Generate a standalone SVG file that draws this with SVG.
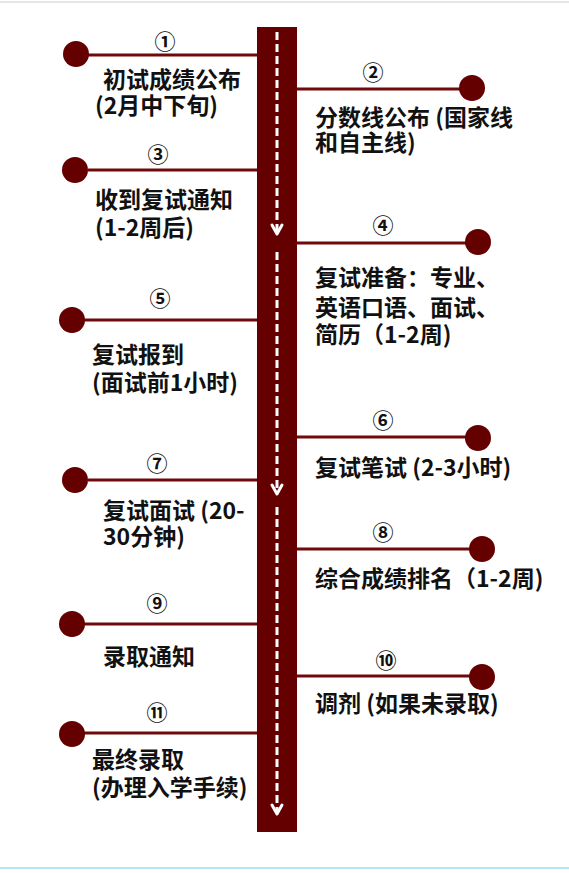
<svg xmlns="http://www.w3.org/2000/svg" width="569" height="873" viewBox="0 0 569 873">
<style>
.t{font-family:"Noto Sans CJK SC","Liberation Sans",sans-serif;font-size:23px;font-weight:bold;fill:#111}
.n{font-family:"Noto Sans CJK SC","DejaVu Sans",sans-serif;font-size:21px;font-weight:bold;fill:#111;text-anchor:middle}
.c{stroke:#6e0a0a;stroke-width:3;fill:none}
.d{fill:#650000}
.dash{stroke:#fff;stroke-width:3;stroke-dasharray:8 4;fill:none}
.ar{stroke:#fff;stroke-width:3;fill:none;stroke-linecap:round;stroke-linejoin:round}
</style>
<rect width="569" height="873" fill="#fff"/>
<rect x="0" y="1" width="569" height="2" fill="#e6e6e6"/>
<rect x="0" y="867" width="569" height="2" fill="#b3e5fc"/>
<g id="timeline">
<rect x="257" y="27" width="40" height="805" fill="#650000"/>
<line class="dash" x1="277" y1="32" x2="277" y2="232"/>
<polyline class="ar" points="272,225 277,234 282,225"/>
<line class="dash" x1="277" y1="252" x2="277" y2="492"/>
<polyline class="ar" points="272,485 277,494 282,485"/>
<line class="dash" x1="277" y1="507" x2="277" y2="812"/>
<polyline class="ar" points="272,805 277,814 282,805"/>
</g>
<g id="connectors">
<line class="c" x1="88" y1="55" x2="257" y2="55"/>
<line class="c" x1="297" y1="89" x2="460" y2="89"/>
<line class="c" x1="88" y1="170" x2="257" y2="170"/>
<line class="c" x1="297" y1="243" x2="466" y2="243"/>
<line class="c" x1="84" y1="320" x2="257" y2="320"/>
<line class="c" x1="297" y1="437" x2="466" y2="437"/>
<line class="c" x1="88" y1="480" x2="257" y2="480"/>
<line class="c" x1="297" y1="549" x2="470" y2="549"/>
<line class="c" x1="84" y1="624" x2="257" y2="624"/>
<line class="c" x1="297" y1="676" x2="470" y2="676"/>
<line class="c" x1="84" y1="733" x2="257" y2="733"/>
</g>
<g id="node1">
<circle class="d" cx="76" cy="54" r="13"/>
<text class="n" x="165" y="49">①</text>
<text class="t"><tspan x="103" y="88">初试成绩公布</tspan><tspan x="95" y="114">(2月中下旬)</tspan></text>
</g>
<g id="node2">
<circle class="d" cx="472" cy="88" r="13"/>
<text class="n" x="373" y="80">②</text>
<text class="t"><tspan x="315" y="126">分数线公布 (国家线</tspan><tspan x="315" y="151">和自主线)</tspan></text>
</g>
<g id="node3">
<circle class="d" cx="75" cy="170" r="13"/>
<text class="n" x="158" y="162">③</text>
<text class="t"><tspan x="95" y="208">收到复试通知</tspan><tspan x="95" y="236">(1-2周后)</tspan></text>
</g>
<g id="node4">
<circle class="d" cx="478" cy="242" r="13"/>
<text class="n" x="383" y="233">④</text>
<text class="t"><tspan x="315" y="286">复试准备：专业、</tspan><tspan x="315" y="316">英语口语、面试、</tspan><tspan x="315" y="343">简历（1-2周)</tspan></text>
</g>
<g id="node5">
<circle class="d" cx="72" cy="320" r="13"/>
<text class="n" x="160" y="306">⑤</text>
<text class="t"><tspan x="92" y="363">复试报到</tspan><tspan x="92" y="391">(面试前1小时)</tspan></text>
</g>
<g id="node6">
<circle class="d" cx="478" cy="438" r="13"/>
<text class="n" x="383" y="428">⑥</text>
<text class="t" x="315" y="476">复试笔试 (2-3小时)</text>
</g>
<g id="node7">
<circle class="d" cx="75" cy="480" r="13"/>
<text class="n" x="157" y="471">⑦</text>
<text class="t"><tspan x="103" y="519">复试面试 (20-</tspan><tspan x="103" y="545">30分钟)</tspan></text>
</g>
<g id="node8">
<circle class="d" cx="482" cy="549" r="13"/>
<text class="n" x="383" y="540">⑧</text>
<text class="t" x="315" y="587">综合成绩排名（1-2周)</text>
</g>
<g id="node9">
<circle class="d" cx="72" cy="624" r="13"/>
<text class="n" x="157" y="611">⑨</text>
<text class="t" x="103" y="665">录取通知</text>
</g>
<g id="node10">
<circle class="d" cx="482" cy="677" r="13"/>
<text class="n" x="386" y="668">⑩</text>
<text class="t" x="315" y="712">调剂 (如果未录取)</text>
</g>
<g id="node11">
<circle class="d" cx="72" cy="734" r="13"/>
<text class="n" x="157" y="720">⑪</text>
<text class="t"><tspan x="92" y="768">最终录取</tspan><tspan x="92" y="796">(办理入学手续)</tspan></text>
</g>
</svg>
